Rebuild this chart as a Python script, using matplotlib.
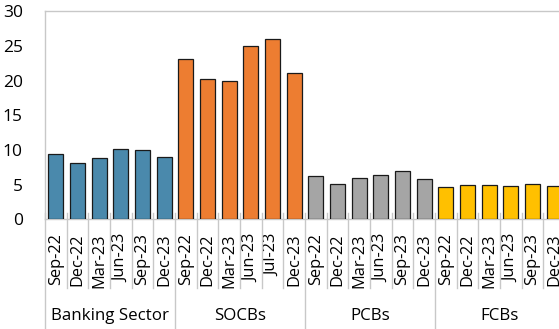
import matplotlib
matplotlib.use("Agg")
import matplotlib.pyplot as plt
from matplotlib.transforms import blended_transform_factory
from matplotlib.lines import Line2D

plt.rcParams['font.family'] = ['Open Sans', 'DejaVu Sans']

groups = ["Banking Sector", "SOCBs", "PCBs", "FCBs"]
periods = [
    ["Sep-22", "Dec-22", "Mar-23", "Jun-23", "Sep-23", "Dec-23"],
    ["Sep-22", "Dec-22", "Mar-23", "Jun-23", "Jul-23", "Dec-23"],
    ["Sep-22", "Dec-22", "Mar-23", "Jun-23", "Sep-23", "Dec-23"],
    ["Sep-22", "Dec-22", "Mar-23", "Jun-23", "Sep-23", "Dec-23"],
]
banking = [9.35, 8.15, 8.8, 10.1, 9.95, 9.0]
socbs = [23.1, 20.3, 19.95, 25.05, 26.05, 21.05]
pcbs = [6.2, 5.1, 5.9, 6.45, 7.0, 5.85]
fcbs = [4.7, 4.9, 4.9, 4.75, 5.05, 4.8]
series = [banking, socbs, pcbs, fcbs]
colors = ["#4A89AC", "#ED7D31", "#A5A5A5", "#FFC000"]

W, H = 559, 329
fig = plt.figure(figsize=(W / 100, H / 100), dpi=100)
x0, x1 = 45, 565
ytop, y0 = 11.3, 219.3
ax = fig.add_axes([x0 / W, 1 - y0 / H, (x1 - x0) / W, (y0 - ytop) / H])

labels, pos = [], []
i = 0
for g, (vals, col, per) in enumerate(zip(series, colors, periods)):
    xs = list(range(i, i + len(vals)))
    ax.bar(xs, vals, width=0.69, color=col, edgecolor="#1a1a1a", linewidth=0.9, zorder=3)
    labels += per
    pos += xs
    i += len(vals)

n = len(pos)
ax.set_xlim(-0.5, n - 0.5)
ax.set_ylim(0, 30)
ax.set_yticks(range(0, 31, 5))
ax.tick_params(axis="y", length=0, pad=16, labelsize=12.5, labelcolor="black")
ax.set_xticks(pos)
ax.set_xticklabels(labels, rotation=90, fontsize=11.8, color="black")
ax.tick_params(axis="x", length=0, pad=10)

grid_col = "#C8C8C8"
for side in ["left", "top", "bottom"]:
    ax.spines[side].set_color(grid_col)
    ax.spines[side].set_linewidth(1.0)
ax.spines["right"].set_visible(False)

tr = blended_transform_factory(ax.transData, fig.transFigure)
top_f = 1 - (y0 - 6) / H
lbl_f = 1 - 288 / H
grp_f = 0.0
bounds = [k - 0.5 for k in range(n + 1)]
group_edges = [-0.5]
acc = -0.5
for vals in series:
    acc += len(vals)
    group_edges.append(acc)
for b in bounds:
    bottom = grp_f if any(abs(b - e) < 1e-9 for e in group_edges) else lbl_f
    fig.add_artist(Line2D([b, b], [top_f, bottom], transform=tr, color=grid_col,
                          linewidth=1.0, clip_on=False))

start = 0
for name, vals in zip(groups, series):
    c = start + (len(vals) - 1) / 2
    ax.text(c, 1 - 316 / H, name, transform=tr, ha="center", va="center",
            fontsize=12.2, color="black")
    start += len(vals)

fig.savefig("out.png", dpi=100)
